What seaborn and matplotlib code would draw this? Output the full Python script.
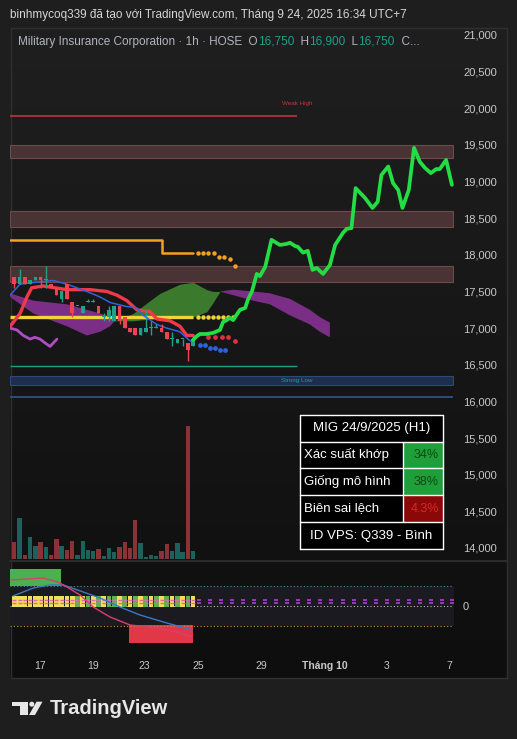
import numpy as np
import matplotlib
matplotlib.use("Agg")
import matplotlib.pyplot as plt
from matplotlib.colors import LinearSegmentedColormap
from matplotlib.patches import Rectangle, Polygon, Circle
import seaborn as sns

W, H = 517, 739

# ---------------- data ----------------
# 1h candles of MIG, x = bar index (0 = first visible bar)
bar_open = [17700, 17600, 17700, 17600, 17650, 17700, 17650, 17600, 17550, 17400,
            17600, 17350, 17300, 17200, 17350, 17350, 17300, 17150, 17150, 17100,
            17300, 17150, 17000, 17000, 16900, 16950, 17000, 17000, 17000, 16950,
            16850, 16800, 16850, 16800, 16750]
bar_high = [17700, 17800, 17700, 17650, 17700, 17700, 17850, 17600, 17550, 17500,
            17600, 17350, 17300, 17300, 17400, 17400, 17300, 17200, 17300, 17300,
            17300, 17150, 17000, 17000, 17000, 17250, 17100, 17050, 17050, 16950,
            16950, 16850, 16850, 16800, 16900]
bar_low = [17550, 17600, 17600, 17600, 17650, 17550, 17550, 17550, 17450, 17350,
           17400, 17150, 17300, 17200, 17350, 17350, 17200, 17100, 17100, 17100,
           17050, 17000, 16950, 16900, 16900, 16950, 16900, 17000, 16950, 16850,
           16750, 16800, 16750, 16550, 16750]
bar_close = [17600, 17700, 17600, 17650, 17700, 17650, 17650, 17550, 17450, 17500,
             17400, 17200, 17300, 17300, 17350, 17350, 17200, 17150, 17250, 17300,
             17100, 17000, 16950, 16900, 17000, 17000, 17000, 17000, 16950, 16850,
             16850, 16850, 16850, 16700, 16850]
volume = [17, 41, 4, 22, 13, 17, 12, 4, 20, 13, 9, 18, 4, 18, 9, 8, 10, 3, 11, 7,
          12, 17, 11, 39, 16, 2, 4, 3, 8, 15, 8, 16, 7, 133, 8]

# projected path (green)
proj_x = [34.0, 34.7, 35.3, 36.6, 37.8, 39.1, 39.7, 40.4, 41.0, 41.6, 42.9, 43.9, 44.4,
          45.2, 46.1, 46.7, 47.7, 48.9, 50.5, 51.8, 52.4, 53.4, 53.9, 54.9, 55.8, 56.7,
          57.5, 58.7, 60.0, 61.0, 62.5, 63.2, 64.1, 64.9, 66.7, 68.1, 69.1, 69.8, 71.1,
          72.0, 73.0, 73.8, 75.0, 76.0, 77.1, 78.1, 79.2, 80.2, 80.9, 82.1, 83.2]
proj_y = [16840, 16890, 16920, 16920, 16935, 16975, 17085, 17110, 17140, 17110, 17250,
          17275, 17385, 17505, 17740, 17710, 17835, 18205, 18135, 18150, 18165, 18120,
          18110, 18030, 18055, 17795, 17820, 17740, 17860, 18135, 18300, 18355, 18365,
          18910, 18775, 18640, 18725, 19090, 19205, 18980, 18885, 18640, 18885, 19460,
          19270, 19185, 19115, 19170, 19170, 19295, 18955]

# ichimoku-style lines
kijun_x = [-0.8, 1.1, 2.4, 3.3, 5.5, 10.0, 14.4, 17.6, 19.5, 21.4, 23.3, 25.8, 27.1,
           29.6, 31.5, 32.8, 34.0]
kijun_y = [17025, 17200, 17425, 17550, 17575, 17525, 17525, 17500, 17450, 17375, 17250,
           17225, 17125, 17100, 17025, 16900, 16900]
tenkan_x = [-0.8, 1.1, 4.0, 7.4, 10.0, 13.8, 16.3, 18.2, 21.0, 23.3, 24.5, 27.1, 29.0,
            31.5, 33.0, 34.0]
tenkan_y = [17450, 17600, 17625, 17650, 17600, 17500, 17425, 17350, 17300, 17275, 17175,
            17050, 17000, 16950, 16850, 16800]
chikou_x = [-0.8, 0.5, 1.7, 3.0, 3.9, 4.9, 5.8, 6.8, 8.1]
chikou_y = [17000, 16975, 16900, 16850, 16875, 16850, 16800, 16750, 16850]
cloud_x = [-0.8, 3.6, 10.0, 13.8, 16.3, 18.2, 19.1, 22.6, 25.8, 27.7, 31.5, 34.0, 36.6,
           37.8, 39.1, 41.6, 45.4, 48.6, 52.4, 56.2, 58.1, 60.0]
span_a = [17425, 17200, 17025, 16900, 16950, 17025, 17100, 17200, 17375, 17475, 17600,
          17625, 17525, 17500, 17500, 17450, 17375, 17325, 17175, 17050, 16950, 16875]
span_b = [17475, 17375, 17325, 17250, 17200, 17150, 17100, 17100, 17125, 17125, 17150,
          17150, 17225, 17350, 17500, 17525, 17500, 17475, 17400, 17250, 17150, 17075]

yellow_level = 17150
yellow_dots_x = [35.0, 35.9, 36.9, 37.8, 38.8, 39.7, 40.7, 41.6]
orange_x = [-0.8, 28.1, 28.1, 34.0]
orange_y = [18200, 18200, 18025, 18025]
orange_dots_x = [35.0, 35.9, 36.9, 38.0, 39.0, 39.9, 41.0, 42.0]
orange_dots_y = [18025, 18025, 18025, 18025, 17975, 17975, 17950, 17850]
red_dots_x = [36.9, 38.2, 39.4, 40.7, 42.0]
red_dots_y = [16875, 16875, 16875, 16875, 16825]
blue_dots_x = [35.3, 36.3, 37.2, 38.2, 39.1, 40.1]
blue_dots_y = [16775, 16775, 16725, 16725, 16700, 16700]

# supply / demand zones
zone_lo = [19325, 18375, 17625]
zone_hi = [19500, 18600, 17850]
weak_high = 19900
strong_low = (16225, 16350)
strong_low_2 = (16050, 16080)
teal_level = 16480
level_end = 53.7

# oscillator pane
osc_blue_x = [-0.25, 3.6, 6.8, 9.3, 13.1, 16.3, 20.1, 23.9, 29.0, 33.8]
osc_blue_y = [10, 18, 21, 21, 14, 8, -1, -9, -17, -24]
osc_pink_x = [-0.6, 2.4, 5.5, 8.3, 10.0, 12.5, 15.0, 18.2, 22.0, 27.1, 30.9, 33.8]
osc_pink_y = [26, 27, 28, 24, 19, 11, -1, -11, -19, -22, -26, -31]
osc_green_box = (-0.8, 8.9, 20, 37)
osc_red_box = (21.8, 33.9, -19, -37)
osc_levels = [20, 0, -20]
square_cols = ["y"] * 12 + ["g", "y", "g", "y", "g", "y", "g", "g", "y", "g", "y", "g",
                            "y", "g", "y", "g", "y", "g", "y", "g", "y", "g", "y"]
eq_marks_x = [35.1, 37.2, 39.3, 41.4, 43.5, 45.6, 47.7, 49.8, 51.9, 54.0, 56.1, 58.2,
              60.3, 62.4, 64.5, 66.6, 68.7, 70.8, 72.9, 75.0, 77.1, 79.2, 81.3, 83.3]

price_ticks = list(range(14000, 21001, 500))
time_pos = [4.9, 15.0, 24.8, 34.9, 46.9, 59.1, 70.8, 82.8]
time_lbl = ["17", "19", "23", "25", "29", "Tháng 10", "3", "7"]

table_rows = [("Xác suất khớp", "34%", "#1f9f3a", "#0b4a12"),
              ("Giống mô hình", "38%", "#1f9f3a", "#0b4a12"),
              ("Biên sai lệch", "4.3%", "#8a0808", "#d42a2a")]

# ---------------- style ----------------
sns.set_theme(style="dark", rc={"figure.facecolor": "#1e1e1e", "axes.facecolor": "none",
                               "axes.edgecolor": "none", "axes.grid": False})
plt.rcParams["font.family"] = ["Liberation Sans", "DejaVu Sans"]

UP, DN = "#22a08c", "#f04352"
TXT = "#c8c8c8"

fig = plt.figure(figsize=(W / 100, H / 100), dpi=100)


def box(x0, y0, x1, y1):
    return [x0 / W, 1 - y1 / H, (x1 - x0) / W, (y1 - y0) / H]


# background gradient + frame
ax_bg = fig.add_axes([0, 0, 1, 1], zorder=-5)
cm = LinearSegmentedColormap.from_list("bg", ["#1f1f1f", "#0e0e0e"])
ax_bg.imshow(np.linspace(0, 1, 200)[:, None], extent=(10, 507, 678, 27), aspect="auto", cmap=cm)
ax_bg.add_patch(Rectangle((10.5, 27.5), 496, 650, fill=False, ec="#303030", lw=1))
ax_bg.plot([10, 507], [561, 561], color="#2b2b2b", lw=1.5)
ax_bg.set_xlim(0, W)
ax_bg.set_ylim(H, 0)
ax_bg.axis("off")

# ---------------- main price pane ----------------
ax = fig.add_axes(box(10, 27, 454, 560))
axv = ax.twinx()  # volume overlay
ax.set_xlim(-0.82, 83.6)
ax.set_ylim(13836, 21109)

for lo, hi in zip(zone_lo, zone_hi):
    ax.add_patch(Rectangle((-0.82, lo), 84.2, hi - lo, fc="#4a3335", ec="#6e4a4c", lw=0.8, zorder=0.5))
ax.add_patch(Rectangle((-0.82, strong_low[0]), 84.2, strong_low[1] - strong_low[0],
                       fc="#1d2f4d", ec="#2c4a7a", lw=0.8, zorder=0.5))
ax.add_patch(Rectangle((-0.82, strong_low_2[0]), 84.2, strong_low_2[1] - strong_low_2[0],
                       fc="#2c4a80", ec="none", zorder=0.5))
ax.hlines(weak_high, -0.82, level_end, color="#c8343f", lw=1.1, zorder=1)
ax.hlines(teal_level, -0.82, level_end, color="#1f9c8a", lw=1, zorder=1)
ax.text(53.7, weak_high + 160, "Weak High", color="#c8343f", fontsize=4.5, ha="center", va="center")
ax.text(53.7, sum(strong_low) / 2, "Strong Low", color="#2a9a9a", fontsize=4.5, ha="center", va="center")

# cloud
ca, cb = np.array(span_a), np.array(span_b)
ax.fill_between(cloud_x, ca, cb, where=ca >= cb, interpolate=True, color="#3b7a2c", lw=0, zorder=1)
ax.fill_between(cloud_x, ca, cb, where=ca < cb, interpolate=True, color="#7a2e86", lw=0, zorder=1)

# lines
ax.hlines(yellow_level, -0.82, 34.0, color="#f0d43a", lw=2.4, zorder=2)
ax.plot(yellow_dots_x, [yellow_level] * len(yellow_dots_x), "o", color="#f0d43a", ms=2.2, zorder=2)
ax.plot(orange_x, orange_y, color="#f5a020", lw=1.8, zorder=2)
ax.plot(orange_dots_x, orange_dots_y, "o", color="#f5a020", ms=2.2, zorder=2)
sns.lineplot(x=chikou_x, y=chikou_y, ax=ax, color="#b04cc4", lw=2, estimator=None, zorder=2)
sns.lineplot(x=kijun_x, y=kijun_y, ax=ax, color="#f2394a", lw=2.4, estimator=None, zorder=3)
sns.lineplot(x=tenkan_x, y=tenkan_y, ax=ax, color="#2f62e0", lw=1.1, estimator=None, zorder=3)
ax.plot(red_dots_x, red_dots_y, "o", color="#e0303f", ms=2.4, zorder=3)
ax.plot(blue_dots_x, blue_dots_y, "o", color="#2f62e0", ms=2.4, zorder=3)

# candles
xs = np.arange(len(bar_open))
o, c = np.array(bar_open), np.array(bar_close)
cols = [UP if cc >= oo else DN for oo, cc in zip(o, c)]
ax.vlines(xs, bar_low, bar_high, color=cols, lw=1, zorder=4)
body_lo = np.minimum(o, c)
body_h = np.maximum(np.abs(c - o), 14)
ax.bar(xs, body_h, bottom=body_lo, width=0.7, color=cols, lw=0, zorder=5)

sns.lineplot(x=proj_x, y=proj_y, ax=ax, color="#22dd44", lw=2.7, estimator=None, zorder=6)

ax.yaxis.tick_right()
ax.yaxis.set_label_position("right")
ax.set_yticks(price_ticks)
ax.set_yticklabels([f"{v:,}" for v in price_ticks])
ax.tick_params(axis="y", length=0, pad=6.5, labelsize=8, labelcolor=TXT,
               left=False, labelleft=False, right=True, labelright=True)
ax.tick_params(axis="x", length=0, labelbottom=False)
ax.set_xlabel("")
ax.set_ylabel("")
for s in ax.spines.values():
    s.set_visible(False)

# volume
axv.set_ylim(-1, 532)
vcols = ["#1c625c" if cc >= oo else "#8c3234" for oo, cc in zip(o, c)]
axv.bar(xs, volume, width=0.82, color=vcols, lw=0)
axv.set_yticks([])
axv.tick_params(left=False, right=False, labelleft=False, labelright=False)
for s in axv.spines.values():
    s.set_visible(False)

# ---------------- oscillator pane ----------------
axo = fig.add_axes(box(10, 562, 454, 655), sharex=ax)
axo.set_ylim(-49, 44)
axo.axhspan(-20, 20, color="#1c1a21", lw=0, zorder=0)
x0, x1, y0, y1 = osc_green_box
axo.fill_between([x0, x1], y0, y1, color="#4caf50", lw=0, zorder=1)
x0, x1, y0, y1 = osc_red_box
axo.fill_between([x0, x1], y0, y1, color="#e13746", lw=0, zorder=1)
for lvl, col in zip(osc_levels, ["#3a8f8f", "#bdbdbd", "#d08a3a"]):
    axo.hlines(lvl, -0.82, 83.3, color=col, lw=0.8, linestyles=(0, (1, 2)), zorder=1)
sq = {"y": "#efe05a", "g": "#5cb24c"}
axo.bar(xs, 11, bottom=-1, width=0.9, color=[sq[k] for k in square_cols], lw=0, zorder=2)
for yy in (6.5, 3.5):
    axo.plot(xs, [yy] * len(xs), "_", color="#e06aa8", ms=3, mew=1, zorder=3)
    axo.plot(eq_marks_x, [yy] * len(eq_marks_x), "_", color="#b545e0", ms=3.5, mew=1.1, zorder=3)
sns.lineplot(x=osc_blue_x, y=osc_blue_y, ax=axo, color="#3a78c8", lw=1, estimator=None, zorder=4)
sns.lineplot(x=osc_pink_x, y=osc_pink_y, ax=axo, color="#d8406e", lw=1, estimator=None, zorder=4)

axo.yaxis.tick_right()
axo.set_yticks([0])
axo.set_yticklabels(["0"])
axo.tick_params(axis="y", length=0, pad=6.5, labelsize=8, labelcolor=TXT)
axo.set_xticks(time_pos)
axo.set_xticklabels(time_lbl)
axo.tick_params(axis="x", length=0, pad=4, labelsize=7.5, labelcolor=TXT)
for t in axo.get_xticklabels():
    if t.get_text().startswith("Tháng"):
        t.set_fontweight("bold")
axo.set_xlabel("")
axo.set_ylabel("")
for s in axo.spines.values():
    s.set_visible(False)

# ---------------- overlay: header, table, logo ----------------
axt = fig.add_axes([0, 0, 1, 1], zorder=10)
axt.set_xlim(0, W)
axt.set_ylim(H, 0)
axt.axis("off")

axt.text(10, 15, "binhmycoq339 đã tạo với TradingView.com, Tháng 9 24, 2025 16:34 UTC+7",
         color="#d6d6d6", fontsize=8.5, va="center", ha="left")

legend_parts = [("Military Insurance Corporation · 1h · HOSE", "#b2b5be"),
                ("  O", "#b2b5be"), ("16,750", "#1f9e89"),
                ("  H", "#b2b5be"), ("16,900", "#1f9e89"),
                ("  L", "#b2b5be"), ("16,750", "#1f9e89"), ("  C...", "#b2b5be")]
renderer = fig.canvas.get_renderer()
xcur = 18
for txt, col in legend_parts:
    t = axt.text(xcur, 42, txt, color=col, fontsize=8.5, va="center", ha="left")
    xcur = t.get_window_extent(renderer).x1

# info table
tx0, tx1, tsplit = 300, 443, 403
row_y = [415, 441.5, 468.3, 495, 522, 549]
axt.add_patch(Rectangle((tx0, row_y[0]), tx1 - tx0, row_y[-1] - row_y[0], fc="black", ec="none"))
for i, (lab, val, bg, fg) in enumerate(table_rows):
    ya, yb = row_y[i + 1], row_y[i + 2]
    axt.add_patch(Rectangle((tsplit, ya), tx1 - tsplit, yb - ya, fc=bg, ec="none"))
    axt.text(304, (ya + yb) / 2, lab, color="white", fontsize=9.5, va="center", ha="left")
    axt.text(439, (ya + yb) / 2, val, color=fg, fontsize=9, va="center", ha="right")
for yy in row_y:
    axt.plot([tx0, tx1], [yy, yy], color="white", lw=1)
axt.plot([tx0, tx0], [row_y[0], row_y[-1]], color="white", lw=1)
axt.plot([tx1, tx1], [row_y[0], row_y[-1]], color="white", lw=1)
axt.plot([tsplit, tsplit], [row_y[1], row_y[4]], color="white", lw=1)
axt.text((tx0 + tx1) / 2, (row_y[0] + row_y[1]) / 2, "MIG 24/9/2025 (H1)", color="white",
         fontsize=9.5, va="center", ha="center")
axt.text((tx0 + tx1) / 2, (row_y[4] + row_y[5]) / 2, "ID VPS: Q339 - Bình", color="white",
         fontsize=9.5, va="center", ha="center")

# TradingView logo
LG = "#e6e6e6"
axt.add_patch(Rectangle((12.3, 701.7), 15.5, 4.6, fc=LG, ec="none"))
axt.add_patch(Rectangle((20.3, 701.7), 7.5, 13.3, fc=LG, ec="none"))
axt.add_patch(Circle((31.8, 704.2), 2.5, fc=LG, ec="none"))
axt.add_patch(Polygon([(29.0, 715), (35.0, 715), (42.5, 701.7), (36.5, 701.7)], fc=LG, ec="none"))
axt.text(50, 709, "TradingView", color=LG, fontsize=14.5, fontweight="bold", va="center", ha="left")

fig.savefig("out.png", dpi=100, facecolor=fig.get_facecolor())
